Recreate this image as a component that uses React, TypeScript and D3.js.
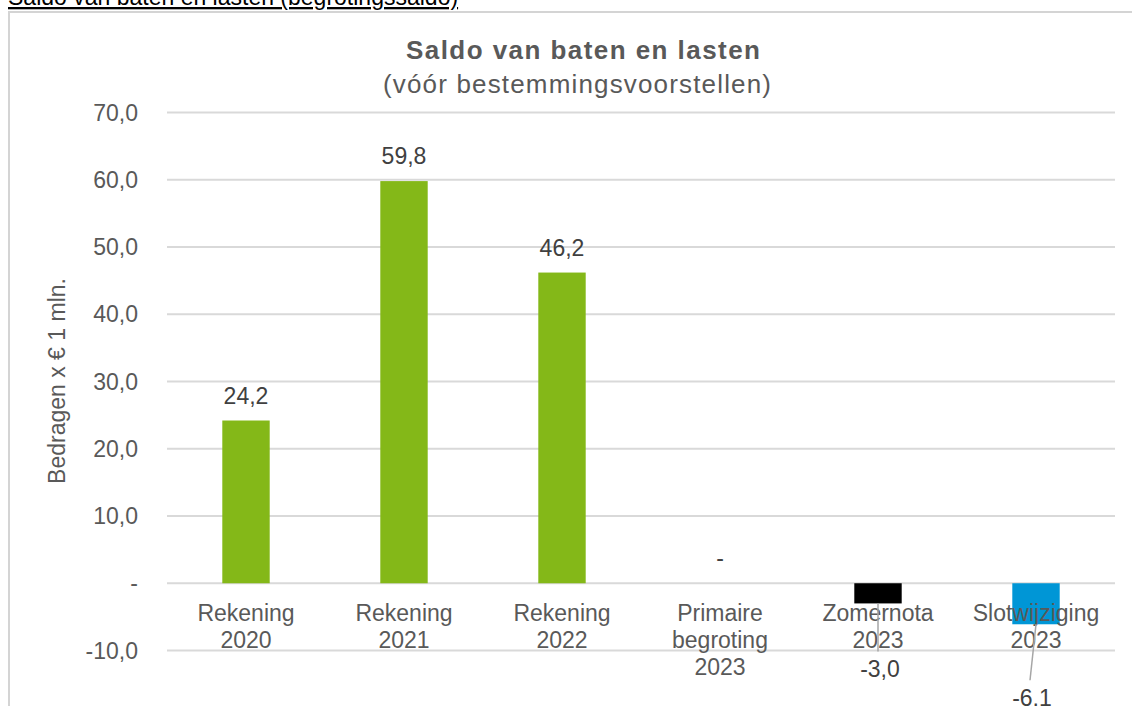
import { useRef, useEffect } from "react";
import * as d3 from "d3";

// chart data
const categories: string[][] = [
  ["Rekening", "2020"],
  ["Rekening", "2021"],
  ["Rekening", "2022"],
  ["Primaire", "begroting", "2023"],
  ["Zomernota", "2023"],
  ["Slotwijziging", "2023"],
];
const values: number[] = [24.2, 59.8, 46.2, 0, -3.0, -6.1];
const yTicks: number[] = [-10, 0, 10, 20, 30, 40, 50, 60, 70];

const pageTitle = "Saldo van baten en lasten (begrotingssaldo)";
const chartTitle = "Saldo van baten en lasten";
const chartSubtitle = "(vóór bestemmingsvoorstellen)";
const yAxisTitle = "Bedragen x € 1 mln.";

// styling
const barColors = ["#84b818", "#84b818", "#84b818", "#84b818", "#000000", "#0096d6"];
const textColor = "#595959";
const gridColor = "#d9d9d9";
const font = "'Liberation Sans', Arial, sans-serif";
// manual placement of the labels of negative bars (callouts)
const calloutOffsets: Record<number, { dx: number; dy: number }> = {
  4: { dx: 2, dy: 74 },
  5: { dx: -4, dy: 82 },
};

const nl = d3.formatLocale({
  decimal: ",",
  thousands: ".",
  grouping: [3],
  currency: ["€", ""],
  minus: "-",
});
const fmt = (v: number) => (v === 0 ? "-" : nl.format(".1f")(v));

export default function App() {
  const ref = useRef<SVGSVGElement | null>(null);

  useEffect(() => {
    const W = 1132;
    const H = 706;
    const svg = d3.select(ref.current);
    svg.selectAll("*").remove();

    const margin = { left: 167, right: 1115, top: 112.5, bottom: 650.5 };

    const labels = categories.map((c) => c.join(" "));
    const x = d3
      .scaleBand<string>()
      .domain(labels)
      .range([margin.left, margin.right])
      .paddingInner(0.7)
      .paddingOuter(0.35);
    const y = d3.scaleLinear().domain([-10, 70]).range([margin.bottom, margin.top]);
    const cx = (i: number) => (x(labels[i]) as number) + x.bandwidth() / 2;

    // page heading (cut off at the top)
    svg
      .append("text")
      .attr("x", 8)
      .attr("y", 5)
      .attr("font-family", font)
      .attr("font-size", 23)
      .attr("fill", "#000")
      .attr("text-decoration", "underline")
      .text(pageTitle);

    // frame
    svg
      .append("path")
      .attr("d", `M9,${H} V12 H${W}`)
      .attr("fill", "none")
      .attr("stroke", "#d4d4d4")
      .attr("stroke-width", 2);

    // titles
    svg
      .append("text")
      .attr("x", 583)
      .attr("y", 59)
      .attr("text-anchor", "middle")
      .attr("font-family", font)
      .attr("font-weight", "bold")
      .attr("font-size", 26)
      .attr("fill", textColor)
      .attr("textLength", 354)
      .attr("lengthAdjust", "spacing")
      .text(chartTitle);
    svg
      .append("text")
      .attr("x", 577)
      .attr("y", 93)
      .attr("text-anchor", "middle")
      .attr("font-family", font)
      .attr("font-size", 26)
      .attr("fill", textColor)
      .attr("textLength", 388)
      .attr("lengthAdjust", "spacing")
      .text(chartSubtitle);

    // gridlines
    svg
      .append("g")
      .selectAll("line")
      .data(yTicks)
      .join("line")
      .attr("x1", margin.left)
      .attr("x2", margin.right)
      .attr("y1", (d) => y(d))
      .attr("y2", (d) => y(d))
      .attr("stroke", gridColor)
      .attr("stroke-width", 2);

    // y tick labels
    svg
      .append("g")
      .selectAll("text")
      .data(yTicks)
      .join("text")
      .attr("x", 138)
      .attr("y", (d) => y(d) + 8)
      .attr("text-anchor", "end")
      .attr("font-family", font)
      .attr("font-size", 23)
      .attr("fill", textColor)
      .text((d) => fmt(d));

    // y axis title
    svg
      .append("text")
      .attr("transform", `translate(65,381) rotate(-90)`)
      .attr("text-anchor", "middle")
      .attr("font-family", font)
      .attr("font-size", 23)
      .attr("fill", textColor)
      .text(yAxisTitle);

    // bars
    svg
      .append("g")
      .selectAll("rect")
      .data(values)
      .join("rect")
      .attr("x", (_, i) => x(labels[i]) as number)
      .attr("width", x.bandwidth())
      .attr("y", (d) => y(Math.max(0, d)))
      .attr("height", (d) => Math.abs(y(d) - y(0)))
      .attr("fill", (_, i) => barColors[i]);

    // category labels
    const cat = svg.append("g");
    categories.forEach((lines, i) => {
      const t = cat
        .append("text")
        .attr("text-anchor", "middle")
        .attr("font-family", font)
        .attr("font-size", 23)
        .attr("fill", textColor);
      lines.forEach((line, j) => {
        t.append("tspan")
          .attr("x", cx(i))
          .attr("y", y(0) + 38 + j * 27)
          .text(line);
      });
    });

    // value labels
    const vl = svg.append("g");
    values.forEach((v, i) => {
      const off = calloutOffsets[i];
      if (v >= 0 || !off) {
        vl.append("text")
          .attr("x", cx(i))
          .attr("y", y(Math.max(0, v)) - 17)
          .attr("text-anchor", "middle")
          .attr("font-family", font)
          .attr("font-size", 23)
          .attr("fill", "#404040")
          .text(fmt(v));
      } else {
        const lx = cx(i) + off.dx;
        const ly = y(v) + off.dy;
        vl.append("line")
          .attr("x1", cx(i))
          .attr("y1", y(v))
          .attr("x2", lx - 2)
          .attr("y2", ly - 26)
          .attr("stroke", "#a6a6a6")
          .attr("stroke-width", 1.5);
        vl.append("text")
          .attr("x", lx)
          .attr("y", ly)
          .attr("text-anchor", "middle")
          .attr("font-family", font)
          .attr("font-size", 23)
          .attr("fill", "#404040")
          .text(fmt(v));
      }
    });
  }, []);

  return (
    <svg
      ref={ref}
      width={1132}
      height={706}
      style={{ position: "absolute", left: 0, top: 0, background: "#fff" }}
    />
  );
}
